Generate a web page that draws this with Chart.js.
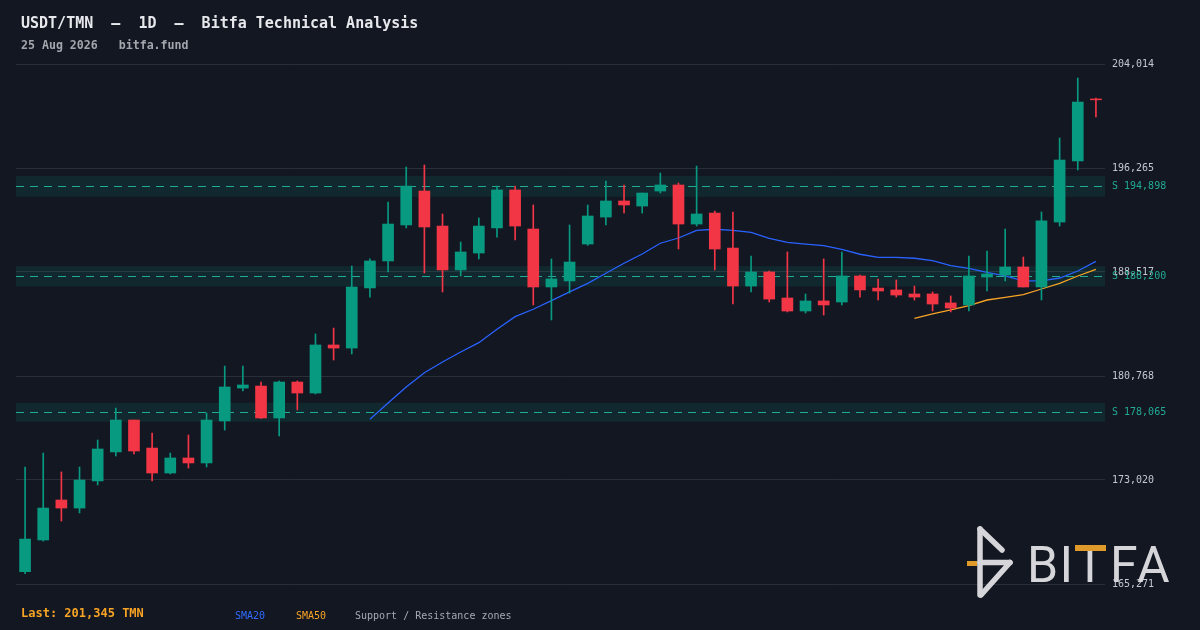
<!DOCTYPE html>
<html>
<head>
<meta charset="utf-8">
<script src="https://cdn.jsdelivr.net/npm/chart.js@4.4.1/dist/chart.umd.min.js"></script>
<style>
  html, body { margin: 0; padding: 0; background: #131722; }
  #wrap { position: relative; width: 1200px; height: 630px; overflow: hidden; font-family: "DejaVu Sans Mono", monospace; }
  #chart { position: absolute; left: 0; top: 0; }
  .t { position: absolute; white-space: pre; }
  #logo { position: absolute; left: 0; top: 0; }
</style>
</head>
<body>
<div id="wrap">
  <canvas id="chart" width="1200" height="630"></canvas>
  <div class="t" style="left:21px;top:16px;font-size:15px;line-height:15px;font-weight:bold;color:#e6e8ec">USDT/TMN  –  1D  –  Bitfa Technical Analysis</div>
  <div class="t" style="left:21px;top:39.5px;font-size:11.6px;line-height:11.6px;font-weight:bold;color:#a3a6ad">25 Aug 2026   bitfa.fund</div>
  <div class="t" style="left:21px;top:607px;font-size:12px;line-height:12px;font-weight:bold;color:#f7a325">Last: 201,345 TMN</div>
  <div class="t" style="left:235px;top:610.5px;font-size:10px;line-height:10px;color:#2f6bff">SMA20</div>
  <div class="t" style="left:296px;top:610.5px;font-size:10px;line-height:10px;color:#f7a325">SMA50</div>
  <div class="t" style="left:355px;top:610.5px;font-size:10px;line-height:10px;color:#a7aab2">Support / Resistance zones</div>
  <svg id="logo" width="1200" height="630">
    <rect x="967" y="561" width="10" height="5" fill="#e09a2a"/>
    <g stroke="#d6d6da" stroke-width="5.5" stroke-linecap="round" fill="none">
      <line x1="980" y1="529" x2="980" y2="595"/>
      <line x1="980" y1="529" x2="1002" y2="550"/>
      <line x1="980" y1="562.5" x2="1010" y2="562.5"/>
      <line x1="1010" y1="562.5" x2="981" y2="595"/>
    </g>
    <text x="1027 1059.5 1075 1110 1137" y="581.5" font-family="Roboto" font-size="50" fill="#d6d6da">BITFA</text>
    <rect x="1075" y="545" width="31" height="6" fill="#e09a2a"/>
  </svg>
</div>
<script>
// 60 daily candles ending 25 Aug 2026
const labels = [];
for (let i = 0; i < 60; i++) {
  const d = new Date(Date.UTC(2026, 5, 27 + i));
  labels.push(d.toISOString().slice(0, 10));
}

const opens = [
  166190, 168550, 171530, 170930, 172950, 175110, 177490, 175400, 173540, 174660,
  174290, 177420, 179870, 180020, 177640, 180320, 179500, 183080, 182850, 187330,
  189340, 192020, 194550, 191940, 188670, 189930, 191800, 194630, 191720, 187400,
  187850, 190600, 192610, 193810, 193430, 194550, 195000, 192090, 192910, 190300,
  187470, 188520, 186580, 185610, 186360, 186280, 188220, 187320, 187180, 186880,
  186880, 186210, 186060, 188140, 188290, 188890, 187400, 192240, 196790, 201410
];
const highs = [
  173990, 175030, 173620, 173990, 176000, 178380, 177490, 176520, 175030, 176370,
  178010, 181510, 181510, 180320, 180400, 180400, 183900, 184340, 188960, 189490,
  193730, 196340, 196490, 192840, 190750, 192540, 194920, 194920, 193510, 189490,
  192020, 193510, 195300, 195000, 194400, 195890, 195150, 196410, 193060, 192990,
  189710, 188590, 190010, 186880, 189490, 190010, 188290, 187990, 187920, 187470,
  187030, 186730, 189710, 190080, 191720, 189630, 192990, 198500, 202970, 201480
];
const lows = [
  166040, 168470, 169960, 170560, 172650, 174810, 174960, 172950, 173470, 173910,
  173990, 176740, 179650, 177600, 176300, 178240, 179430, 181960, 182410, 186650,
  188520, 191800, 188440, 187030, 188220, 189490, 191120, 190900, 186060, 184940,
  186950, 190500, 192020, 192910, 192910, 194400, 190230, 191940, 188670, 186130,
  187030, 186280, 185540, 185460, 185310, 186060, 186650, 186430, 186650, 186430,
  185610, 185540, 185610, 187100, 187850, 187400, 186430, 191940, 196120, 200070
];
const closes = [
  168620, 170930, 170930, 173020, 175330, 177490, 175180, 173540, 174660, 174290,
  177490, 179950, 180100, 177640, 180320, 179500, 183080, 182850, 187400, 189340,
  192090, 194920, 191870, 188670, 190010, 191940, 194630, 191940, 187400, 188000,
  189260, 192690, 193810, 193510, 194400, 195000, 192090, 192840, 190230, 187470,
  188520, 186500, 185610, 186360, 186060, 188220, 187180, 187100, 186800, 186650,
  186130, 185830, 188220, 188370, 188890, 187400, 192320, 196860, 201180, 201345
];

const sma20 = [
  null, null, null, null, null, null, null, null, null, null,
  null, null, null, null, null, null, null, null, null, 177540,
  178760, 179950, 181010, 181810, 182560, 183250, 184250, 185190, 185740, 186380,
  187030, 187670, 188420, 189170, 189860, 190660, 191050, 191620, 191700, 191620,
  191470, 191030, 190730, 190600, 190480, 190210, 189840, 189610, 189610, 189540,
  189360, 188990, 188790, 188490, 188220, 187850, 187850, 188070, 188590, 189310
];
const sma50 = [
  null, null, null, null, null, null, null, null, null, null,
  null, null, null, null, null, null, null, null, null, null,
  null, null, null, null, null, null, null, null, null, null,
  null, null, null, null, null, null, null, null, null, null,
  null, null, null, null, null, null, null, null, null, 185070,
  185390, 185690, 186010, 186430, 186630, 186830, 187250, 187670, 188220, 188720
];

const zoneLevels = [194898, 188200, 178065];
const zoneHalfWidth = 0.004;
const yTicks = [165271, 173020, 180768, 188517, 196265, 204014];

const UP = '#089981';
const DOWN = '#f23645';
const ZONE_LINE = '#22ab94';

const candleColor = (c) => closes[c.dataIndex] >= opens[c.dataIndex] ? UP : DOWN;
const fmt = (v) => Math.round(v).toLocaleString('en-US');

const zonePlugin = {
  id: 'zones',
  beforeDatasetsDraw(chart) {
    const { ctx, chartArea, scales: { y } } = chart;
    ctx.save();
    zoneLevels.forEach(level => {
      const top = y.getPixelForValue(level * (1 + zoneHalfWidth));
      const bot = y.getPixelForValue(level * (1 - zoneHalfWidth));
      ctx.fillStyle = 'rgba(8, 153, 129, 0.13)';
      ctx.fillRect(chartArea.left, top, chartArea.right - chartArea.left, bot - top);
      const py = Math.round(y.getPixelForValue(level)) + 0.5;
      ctx.strokeStyle = ZONE_LINE;
      ctx.lineWidth = 1.2;
      ctx.setLineDash([8, 6]);
      ctx.beginPath();
      ctx.moveTo(chartArea.left, py);
      ctx.lineTo(chartArea.right, py);
      ctx.stroke();
    });
    ctx.restore();
  },
  afterDraw(chart) {
    const { ctx, chartArea, scales: { y } } = chart;
    ctx.save();
    ctx.font = '10px "DejaVu Sans Mono"';
    ctx.fillStyle = ZONE_LINE;
    ctx.textBaseline = 'middle';
    ctx.textAlign = 'left';
    zoneLevels.forEach(level => {
      ctx.fillText('S ' + fmt(level), chartArea.right + 7, y.getPixelForValue(level));
    });
    ctx.restore();
  }
};

new Chart(document.getElementById('chart').getContext('2d'), {
  type: 'bar',
  data: {
    labels: labels,
    datasets: [
      {
        label: 'Body',
        data: opens.map((o, i) => [o, closes[i]]),
        backgroundColor: candleColor,
        barThickness: 11,
        grouped: false,
        borderWidth: 0,
        order: 0
      },
      {
        label: 'Wick',
        data: lows.map((l, i) => [l, highs[i]]),
        backgroundColor: candleColor,
        barThickness: 1,
        grouped: false,
        borderWidth: 0,
        order: 1
      },
      {
        type: 'line',
        label: 'SMA20',
        data: sma20,
        borderColor: '#2962ff',
        borderWidth: 1.3,
        pointRadius: 0,
        tension: 0,
        spanGaps: false,
        order: 2
      },
      {
        type: 'line',
        label: 'SMA50',
        data: sma50,
        borderColor: '#f7a325',
        borderWidth: 1.3,
        pointRadius: 0,
        tension: 0,
        spanGaps: false,
        order: 3
      }
    ]
  },
  options: {
    animation: false,
    responsive: false,
    devicePixelRatio: 1,
    events: [],
    layout: { padding: { left: 16, top: 64, right: 0, bottom: 46 } },
    plugins: {
      legend: { display: false },
      tooltip: { enabled: false }
    },
    scales: {
      x: {
        display: false,
        offset: true,
        grid: { display: false }
      },
      y: {
        position: 'right',
        min: yTicks[0],
        max: yTicks[yTicks.length - 1],
        afterBuildTicks: (s) => { s.ticks = yTicks.map(v => ({ value: v })); },
        afterFit: (s) => { s.width = 95; },
        border: { display: false },
        grid: { color: '#2a2e39', lineWidth: 1, drawTicks: false },
        ticks: {
          padding: 7,
          color: '#c3c7cf',
          font: { family: 'DejaVu Sans Mono', size: 10 },
          callback: (v) => fmt(v)
        }
      }
    }
  },
  plugins: [zonePlugin]
});
</script>
</body>
</html>
